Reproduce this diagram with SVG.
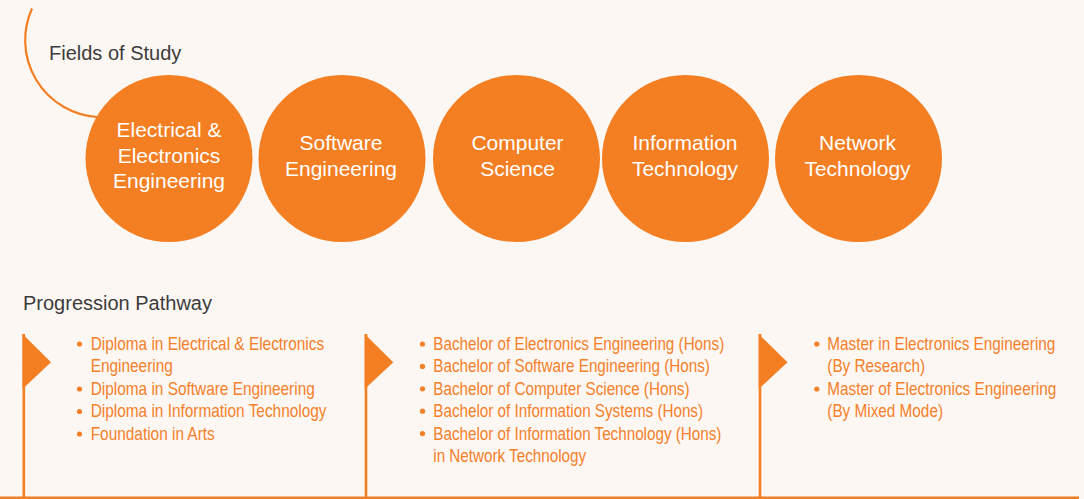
<svg xmlns="http://www.w3.org/2000/svg" width="1084" height="499" viewBox="0 0 1084 499">
  <style>
    .bg { fill: #FDF7F3; }
    .node circle { fill: #F47E22; }
    .node text { font-family: "Liberation Sans", Arial, sans-serif; font-size: 21px; fill: #FFFFFF; text-anchor: middle; }
    .heading { font-family: "Liberation Sans", Arial, sans-serif; font-size: 20px; fill: #3C3C3C; }
    .item { font-family: "Liberation Sans", Arial, sans-serif; font-size: 17.5px; fill: #F4802A; }
    .dot { fill: #F4802A; }
    .flag { fill: #F47E22; }
    .pole { stroke: #F47E22; stroke-width: 2.6; fill: none; }
    .arc { stroke: #F47E22; stroke-width: 2.2; fill: none; }
  </style>
  <rect class="bg" x="0" y="0" width="1084" height="499"/>

  <g id="connectors">
    <path class="arc" d="M 32 8.5 A 77 77 0 0 0 97 117"/>
  </g>

  <text class="heading" x="49" y="60">Fields of Study</text>

  <g id="node-eee" class="node">
    <circle cx="169" cy="158.5" r="83.5"/>
    <text x="169" y="137">Electrical &amp;</text>
    <text x="169" y="162.7">Electronics</text>
    <text x="169" y="188.4">Engineering</text>
  </g>
  <g id="node-se" class="node">
    <circle cx="342" cy="158.5" r="83.5"/>
    <text x="341" y="150">Software</text>
    <text x="341" y="176">Engineering</text>
  </g>
  <g id="node-cs" class="node">
    <circle cx="516.5" cy="158.5" r="83.5"/>
    <text x="517.5" y="150">Computer</text>
    <text x="517.5" y="176">Science</text>
  </g>
  <g id="node-it" class="node">
    <circle cx="685.5" cy="158.5" r="83.5"/>
    <text x="685" y="150">Information</text>
    <text x="685" y="176">Technology</text>
  </g>
  <g id="node-nt" class="node">
    <circle cx="858.5" cy="158.5" r="83.5"/>
    <text x="857.5" y="150">Network</text>
    <text x="857.5" y="176">Technology</text>
  </g>

  <text class="heading" x="23" y="310">Progression Pathway</text>

  <g id="pathway">
    <line class="pole" x1="0" y1="497.8" x2="1079" y2="497.8"/>

    <g id="stage-diploma">
      <line class="pole" x1="23.8" y1="334" x2="23.8" y2="498"/>
      <polygon class="flag" points="22.5,334 51,362.3 22.5,389"/>
      <circle class="dot" cx="79.5" cy="344" r="2.6"/>
      <circle class="dot" cx="79.5" cy="389" r="2.6"/>
      <circle class="dot" cx="79.5" cy="411.5" r="2.6"/>
      <circle class="dot" cx="79.5" cy="434" r="2.6"/>
      <g transform="translate(90.7,0) scale(0.88,1)">
        <text class="item" x="0" y="350">Diploma in Electrical &amp; Electronics</text>
        <text class="item" x="0" y="372.5">Engineering</text>
        <text class="item" x="0" y="395">Diploma in Software Engineering</text>
        <text class="item" x="0" y="417.5">Diploma in Information Technology</text>
        <text class="item" x="0" y="440">Foundation in Arts</text>
      </g>
    </g>

    <g id="stage-bachelor">
      <line class="pole" x1="366" y1="334" x2="366" y2="498"/>
      <polygon class="flag" points="364.7,334 393.3,362.3 364.7,389"/>
      <circle class="dot" cx="422.5" cy="344" r="2.6"/>
      <circle class="dot" cx="422.5" cy="366.4" r="2.6"/>
      <circle class="dot" cx="422.5" cy="388.8" r="2.6"/>
      <circle class="dot" cx="422.5" cy="411.2" r="2.6"/>
      <circle class="dot" cx="422.5" cy="433.6" r="2.6"/>
      <g transform="translate(433.3,0) scale(0.87,1)">
        <text class="item" x="0" y="350">Bachelor of Electronics Engineering (Hons)</text>
        <text class="item" x="0" y="372.4">Bachelor of Software Engineering (Hons)</text>
        <text class="item" x="0" y="394.8">Bachelor of Computer Science (Hons)</text>
        <text class="item" x="0" y="417.2">Bachelor of Information Systems (Hons)</text>
        <text class="item" x="0" y="439.6">Bachelor of Information Technology (Hons)</text>
        <text class="item" x="0" y="462">in Network Technology</text>
      </g>
    </g>

    <g id="stage-master">
      <line class="pole" x1="760" y1="334" x2="760" y2="498"/>
      <polygon class="flag" points="758.7,334 787.5,362.3 758.7,389"/>
      <circle class="dot" cx="816.8" cy="344" r="2.6"/>
      <circle class="dot" cx="816.8" cy="389" r="2.6"/>
      <g transform="translate(827.3,0) scale(0.875,1)">
        <text class="item" x="0" y="350">Master in Electronics Engineering</text>
        <text class="item" x="0" y="372.5">(By Research)</text>
        <text class="item" x="0" y="395">Master of Electronics Engineering</text>
        <text class="item" x="0" y="417.5">(By Mixed Mode)</text>
      </g>
    </g>
  </g>
</svg>
